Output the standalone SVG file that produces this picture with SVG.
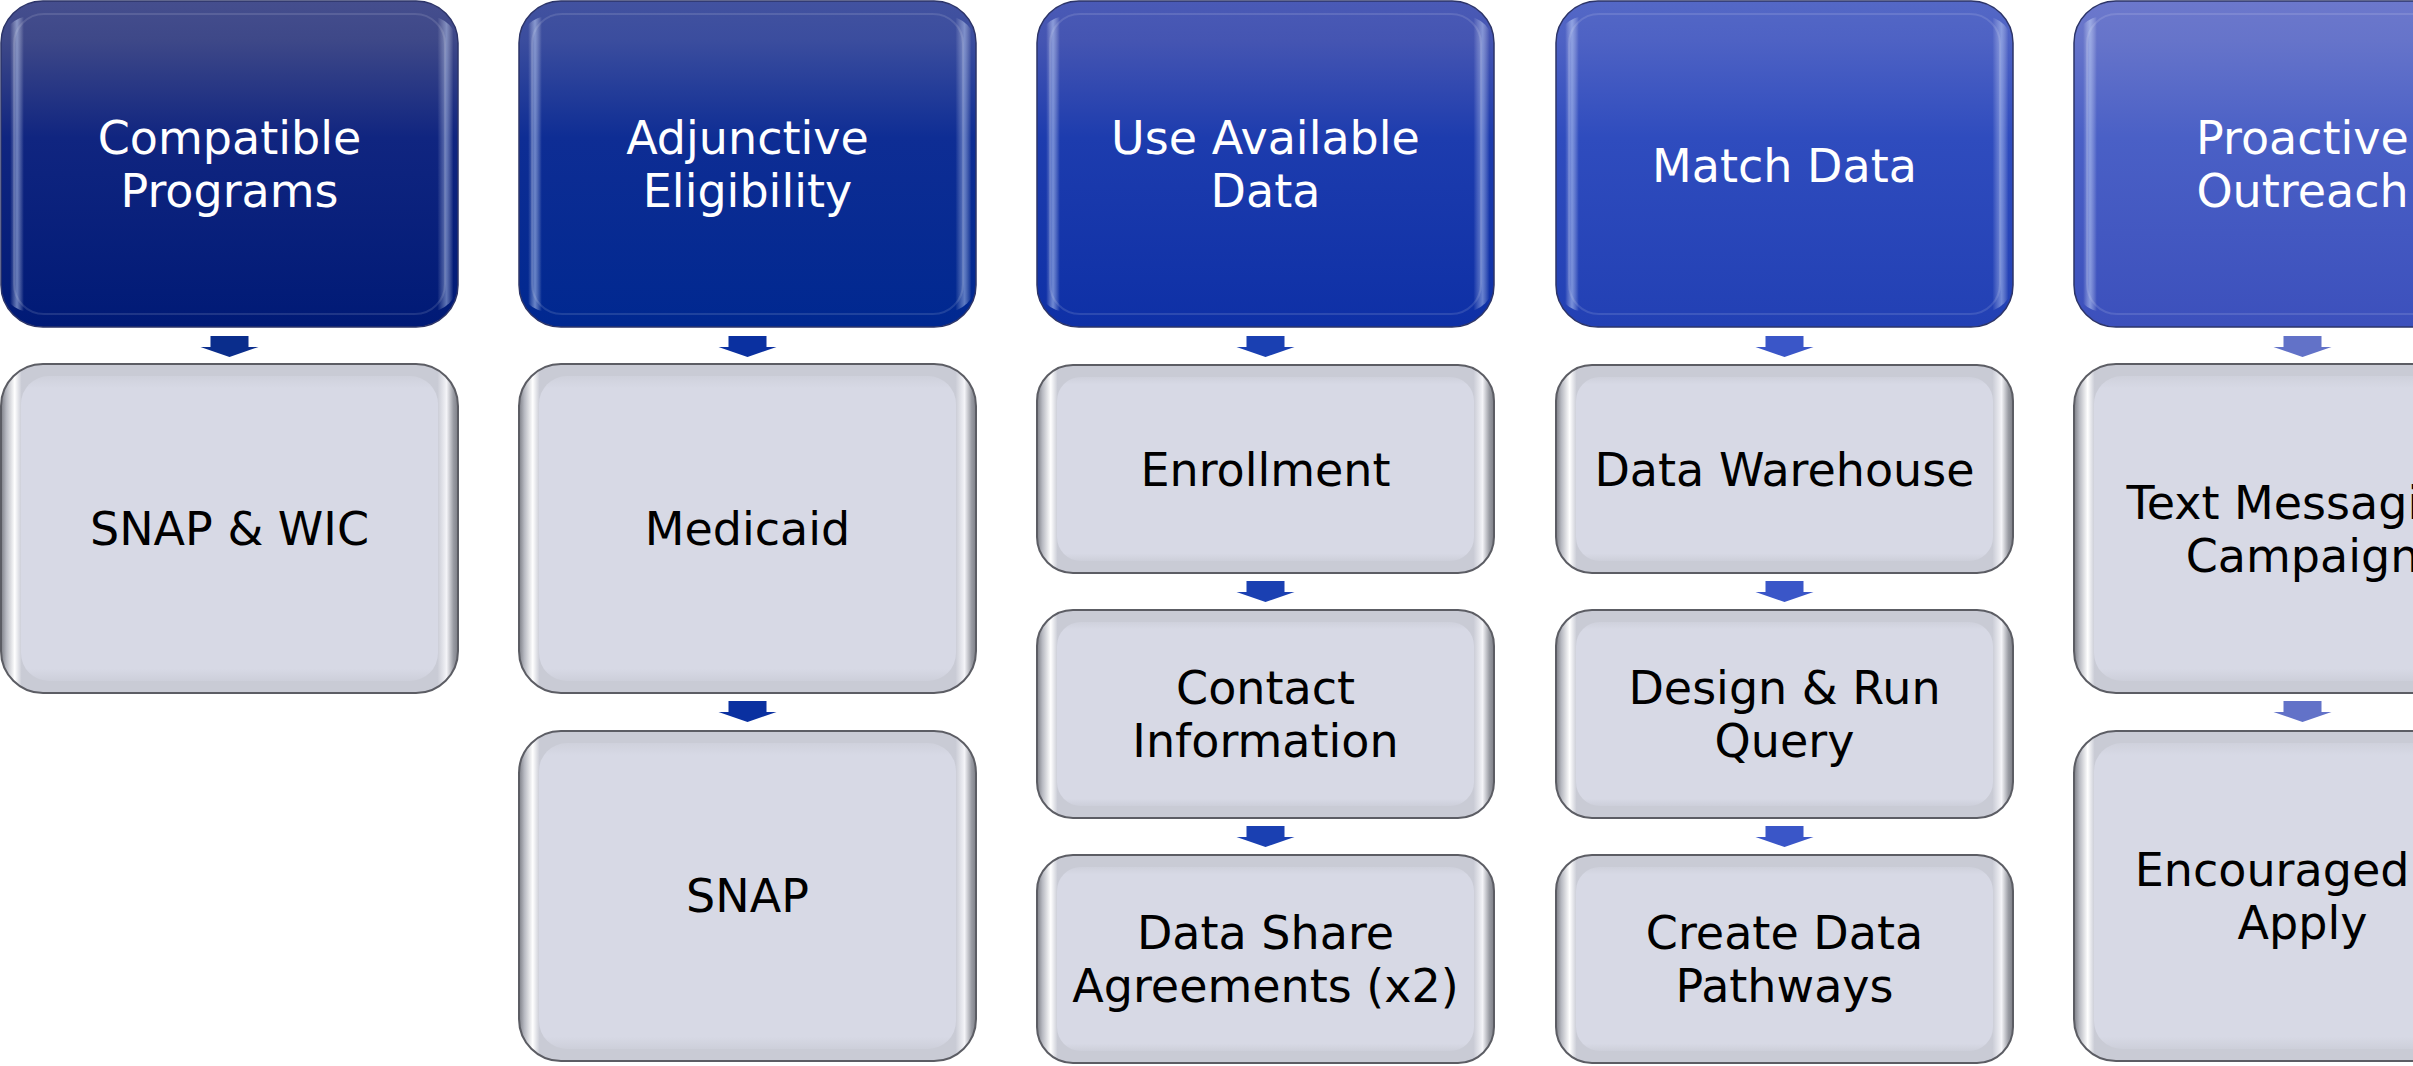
<svg xmlns="http://www.w3.org/2000/svg" width="2413" height="1066" viewBox="0 0 2413 1066">
<defs>
<linearGradient id="h1" x1="0" y1="0" x2="0" y2="1"><stop offset="0" stop-color="#454e8e"/><stop offset="0.12" stop-color="#3e4888"/><stop offset="0.42" stop-color="#102580"/><stop offset="1" stop-color="#001a76"/></linearGradient>
<linearGradient id="h2" x1="0" y1="0" x2="0" y2="1"><stop offset="0" stop-color="#4252a0"/><stop offset="0.12" stop-color="#3b4d9e"/><stop offset="0.42" stop-color="#0e2d94"/><stop offset="1" stop-color="#002890"/></linearGradient>
<linearGradient id="h3" x1="0" y1="0" x2="0" y2="1"><stop offset="0" stop-color="#4a5ab6"/><stop offset="0.12" stop-color="#4555b2"/><stop offset="0.42" stop-color="#1d3cae"/><stop offset="1" stop-color="#0e30a6"/></linearGradient>
<linearGradient id="h4" x1="0" y1="0" x2="0" y2="1"><stop offset="0" stop-color="#5468c6"/><stop offset="0.12" stop-color="#4e62c4"/><stop offset="0.42" stop-color="#2f4cbe"/><stop offset="1" stop-color="#2240b4"/></linearGradient>
<linearGradient id="h5" x1="0" y1="0" x2="0" y2="1"><stop offset="0" stop-color="#6c78cc"/><stop offset="0.12" stop-color="#6674ca"/><stop offset="0.42" stop-color="#4a60c6"/><stop offset="1" stop-color="#3c50bc"/></linearGradient>
<linearGradient id="hiH" x1="0" y1="0" x2="1" y2="0"><stop offset="0" stop-color="#fff" stop-opacity="0"/><stop offset="0.02" stop-color="#fff" stop-opacity="0"/><stop offset="0.035" stop-color="#cfe0ff" stop-opacity="0.5"/><stop offset="0.05" stop-color="#fff" stop-opacity="0"/><stop offset="0.955" stop-color="#fff" stop-opacity="0"/><stop offset="0.975" stop-color="#cfe0ff" stop-opacity="0.45"/><stop offset="0.99" stop-color="#fff" stop-opacity="0"/></linearGradient>
<linearGradient id="grayRim" x1="0" y1="0" x2="1" y2="0"><stop offset="0" stop-color="#7c7e86"/><stop offset="0.012" stop-color="#b8bac2"/><stop offset="0.03" stop-color="#ffffff"/><stop offset="0.045" stop-color="#c9cbd5"/><stop offset="0.955" stop-color="#c9cbd5"/><stop offset="0.975" stop-color="#f4f4f8"/><stop offset="0.99" stop-color="#9a9ca4"/><stop offset="1" stop-color="#7c7e86"/></linearGradient>
<linearGradient id="grayIn" x1="0" y1="0" x2="0" y2="1"><stop offset="0" stop-color="#cfd1dc"/><stop offset="0.04" stop-color="#d7d9e5"/><stop offset="0.96" stop-color="#d7d9e5"/><stop offset="1" stop-color="#cdcfda"/></linearGradient>
</defs>
<style>
.ho{stroke:#2c3468;stroke-width:1.5}
.hi{fill:url(#hiH)}
.rim{fill:none;stroke:#ffffff;stroke-opacity:0.12;stroke-width:2}
.go{fill:url(#grayRim);stroke:#5c5d64;stroke-width:2}
.gi{fill:url(#grayIn)}
.th{font-family:"DejaVu Sans","Liberation Sans",sans-serif;font-size:46px;fill:#ffffff;text-anchor:middle}
.tb{font-family:"DejaVu Sans","Liberation Sans",sans-serif;font-size:46px;fill:#000000;text-anchor:middle}
.a1{fill:#0a2d8c}.a2{fill:#0a30a0}.a3{fill:#1a40b2}.a4{fill:#3a56c8}.a5{fill:#6272c8}
</style>
<rect width="2413" height="1066" fill="#ffffff"/>

<!-- Column 1 -->
<g id="n-compatible-programs">
<rect x="1" y="1" width="457" height="326" rx="42" fill="url(#h1)" class="ho"/>
<rect x="1" y="16" width="457" height="296" rx="30" class="hi"/>
<rect x="14" y="14" width="431" height="300" rx="30" class="rim"/>
<text class="th" x="229.5" y="154">Compatible</text>
<text class="th" x="229.5" y="207">Programs</text>
</g>
<g id="n-snap-wic">
<rect x="1" y="364" width="457" height="329" rx="42" class="go"/>
<rect x="21" y="376" width="417" height="305" rx="28" class="gi"/>
<text class="tb" x="229.5" y="545">SNAP &amp; WIC</text>
</g>

<!-- Column 2 -->
<g id="n-adjunctive-eligibility">
<rect x="519" y="1" width="457" height="326" rx="42" fill="url(#h2)" class="ho"/>
<rect x="519" y="16" width="457" height="296" rx="30" class="hi"/>
<rect x="532" y="14" width="431" height="300" rx="30" class="rim"/>
<text class="th" x="747.5" y="154">Adjunctive</text>
<text class="th" x="747.5" y="207">Eligibility</text>
</g>
<g id="n-medicaid">
<rect x="519" y="364" width="457" height="329" rx="42" class="go"/>
<rect x="539" y="376" width="417" height="305" rx="28" class="gi"/>
<text class="tb" x="747.5" y="545">Medicaid</text>
</g>
<g id="n-snap">
<rect x="519" y="731" width="457" height="330" rx="42" class="go"/>
<rect x="539" y="743" width="417" height="306" rx="28" class="gi"/>
<text class="tb" x="747.5" y="912">SNAP</text>
</g>

<!-- Column 3 -->
<g id="n-use-available-data">
<rect x="1037" y="1" width="457" height="326" rx="42" fill="url(#h3)" class="ho"/>
<rect x="1037" y="16" width="457" height="296" rx="30" class="hi"/>
<rect x="1050" y="14" width="431" height="300" rx="30" class="rim"/>
<text class="th" x="1265.5" y="154">Use Available</text>
<text class="th" x="1265.5" y="207">Data</text>
</g>
<g id="n-enrollment">
<rect x="1037" y="365" width="457" height="208" rx="36" class="go"/>
<rect x="1057" y="377" width="417" height="184" rx="24" class="gi"/>
<text class="tb" x="1265.5" y="485.5">Enrollment</text>
</g>
<g id="n-contact-information">
<rect x="1037" y="610" width="457" height="208" rx="36" class="go"/>
<rect x="1057" y="622" width="417" height="184" rx="24" class="gi"/>
<text class="tb" x="1265.5" y="704">Contact</text>
<text class="tb" x="1265.5" y="757">Information</text>
</g>
<g id="n-data-share-agreements">
<rect x="1037" y="855" width="457" height="208" rx="36" class="go"/>
<rect x="1057" y="867" width="417" height="184" rx="24" class="gi"/>
<text class="tb" x="1265.5" y="949">Data Share</text>
<text class="tb" x="1265.5" y="1002">Agreements (x2)</text>
</g>

<!-- Column 4 -->
<g id="n-match-data">
<rect x="1556" y="1" width="457" height="326" rx="42" fill="url(#h4)" class="ho"/>
<rect x="1556" y="16" width="457" height="296" rx="30" class="hi"/>
<rect x="1569" y="14" width="431" height="300" rx="30" class="rim"/>
<text class="th" x="1784.5" y="182">Match Data</text>
</g>
<g id="n-data-warehouse">
<rect x="1556" y="365" width="457" height="208" rx="36" class="go"/>
<rect x="1576" y="377" width="417" height="184" rx="24" class="gi"/>
<text class="tb" x="1784.5" y="485.5">Data Warehouse</text>
</g>
<g id="n-design-run-query">
<rect x="1556" y="610" width="457" height="208" rx="36" class="go"/>
<rect x="1576" y="622" width="417" height="184" rx="24" class="gi"/>
<text class="tb" x="1784.5" y="704">Design &amp; Run</text>
<text class="tb" x="1784.5" y="757">Query</text>
</g>
<g id="n-create-data-pathways">
<rect x="1556" y="855" width="457" height="208" rx="36" class="go"/>
<rect x="1576" y="867" width="417" height="184" rx="24" class="gi"/>
<text class="tb" x="1784.5" y="949">Create Data</text>
<text class="tb" x="1784.5" y="1002">Pathways</text>
</g>

<!-- Column 5 -->
<g id="n-proactive-outreach">
<rect x="2074" y="1" width="457" height="326" rx="42" fill="url(#h5)" class="ho"/>
<rect x="2074" y="16" width="457" height="296" rx="30" class="hi"/>
<rect x="2087" y="14" width="431" height="300" rx="30" class="rim"/>
<text class="th" x="2302.5" y="154">Proactive</text>
<text class="th" x="2302.5" y="207">Outreach</text>
</g>
<g id="n-text-messaging-campaign">
<rect x="2074" y="364" width="457" height="329" rx="42" class="go"/>
<rect x="2094" y="376" width="417" height="305" rx="28" class="gi"/>
<text class="tb" x="2302.5" y="518.5">Text Messaging</text>
<text class="tb" x="2302.5" y="571.5">Campaign</text>
</g>
<g id="n-encouraged-to-apply">
<rect x="2074" y="731" width="457" height="330" rx="42" class="go"/>
<rect x="2094" y="743" width="417" height="306" rx="28" class="gi"/>
<text class="tb" x="2302.5" y="886">Encouraged to</text>
<text class="tb" x="2302.5" y="939">Apply</text>
</g>

<!-- Connectors -->
<g id="connectors">
<path class="a1" d="M210.5 336H248.5V347H258.5L229.5 357L200.5 347H210.5Z"/>
<path class="a2" d="M728.5 336H766.5V347H776.5L747.5 357L718.5 347H728.5Z"/>
<path class="a2" d="M728.5 701H766.5V712H776.5L747.5 722L718.5 712H728.5Z"/>
<path class="a3" d="M1246.5 336H1284.5V347H1294.5L1265.5 357L1236.5 347H1246.5Z"/>
<path class="a3" d="M1246.5 581H1284.5V592H1294.5L1265.5 602L1236.5 592H1246.5Z"/>
<path class="a3" d="M1246.5 826H1284.5V837H1294.5L1265.5 847L1236.5 837H1246.5Z"/>
<path class="a4" d="M1765.5 336H1803.5V347H1813.5L1784.5 357L1755.5 347H1765.5Z"/>
<path class="a4" d="M1765.5 581H1803.5V592H1813.5L1784.5 602L1755.5 592H1765.5Z"/>
<path class="a4" d="M1765.5 826H1803.5V837H1813.5L1784.5 847L1755.5 837H1765.5Z"/>
<path class="a5" d="M2283.5 336H2321.5V347H2331.5L2302.5 357L2273.5 347H2283.5Z"/>
<path class="a5" d="M2283.5 701H2321.5V712H2331.5L2302.5 722L2273.5 712H2283.5Z"/>
</g>
</svg>
